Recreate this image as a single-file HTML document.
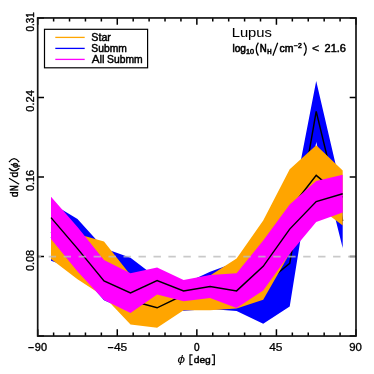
<!DOCTYPE html>
<html><head><meta charset="utf-8"><style>
html,body{margin:0;padding:0;background:#fff;}
svg{display:block}
text{font-family:"Liberation Sans",sans-serif;fill:#000;stroke:#000;stroke-width:0.3px;}
</style></head><body>
<svg width="374" height="374" viewBox="0 0 374 374">
<rect width="374" height="374" fill="#fff"/>
<polygon points="51.0,203.0 77.5,218.9 104.0,248.2 130.5,257.7 157.1,278.0 183.6,284.0 210.1,271.7 236.6,262.0 263.2,247.0 289.7,218.0 316.2,80.9 342.7,194.8 342.7,248.1 316.2,142.0 289.7,306.6 263.2,323.7 236.6,311.0 210.1,309.0 183.6,310.7 157.1,300.0 130.5,312.0 104.0,300.2 77.5,270.0 51.0,260.8" fill="#0000ff"/>
<polyline points="51.0,232.0 77.5,249.0 104.0,274.6 130.5,285.0 157.1,292.0 183.6,297.0 210.1,291.0 236.6,285.5 263.2,285.0 289.7,263.3 316.2,111.4 342.7,221.0" fill="none" stroke="#000" stroke-width="1.45"/>
<polygon points="51.0,215.0 77.5,234.0 104.0,241.5 130.5,275.0 157.1,287.8 183.6,281.0 210.1,275.5 236.6,258.5 263.2,220.5 289.7,169.3 316.2,145.2 342.7,170.5 342.7,225.5 316.2,205.6 289.7,253.5 263.2,299.7 236.6,308.5 210.1,310.2 183.6,310.2 157.1,327.8 130.5,324.6 104.0,296.5 77.5,279.3 51.0,258.9" fill="#ffa500"/>
<polyline points="51.0,237.0 77.5,256.0 104.0,269.0 130.5,300.5 157.1,307.8 183.6,295.0 210.1,293.0 236.6,283.0 263.2,260.0 289.7,209.5 316.2,175.4 342.7,197.3" fill="none" stroke="#000" stroke-width="1.45"/>
<polygon points="51.0,196.7 77.5,227.0 104.0,260.1 130.5,273.3 157.1,267.6 183.6,280.0 210.1,274.9 236.6,273.3 263.2,240.5 289.7,204.5 316.2,181.1 342.7,174.8 342.7,212.5 316.2,222.1 289.7,253.7 263.2,290.5 236.6,308.1 210.1,298.1 183.6,301.3 157.1,294.5 130.5,312.9 104.0,300.0 77.5,271.6 51.0,238.9" fill="#ff00ff"/>
<polyline points="51.0,217.6 77.5,248.6 104.0,280.9 130.5,293.0 157.1,280.5 183.6,290.9 210.1,286.6 236.6,290.9 263.2,266.3 289.7,229.1 316.2,201.6 342.7,193.7" fill="none" stroke="#000" stroke-width="1.45"/>
<path d="M37.70 336.0v-6.7M37.70 17.95v6.7 M53.62 336.0v-3.5M53.62 17.95v3.5 M69.53 336.0v-3.5M69.53 17.95v3.5 M85.45 336.0v-3.5M85.45 17.95v3.5 M101.36 336.0v-3.5M101.36 17.95v3.5 M117.28 336.0v-6.7M117.28 17.95v6.7 M133.19 336.0v-3.5M133.19 17.95v3.5 M149.11 336.0v-3.5M149.11 17.95v3.5 M165.02 336.0v-3.5M165.02 17.95v3.5 M180.94 336.0v-3.5M180.94 17.95v3.5 M196.85 336.0v-6.7M196.85 17.95v6.7 M212.76 336.0v-3.5M212.76 17.95v3.5 M228.68 336.0v-3.5M228.68 17.95v3.5 M244.60 336.0v-3.5M244.60 17.95v3.5 M260.51 336.0v-3.5M260.51 17.95v3.5 M276.43 336.0v-6.7M276.43 17.95v6.7 M292.34 336.0v-3.5M292.34 17.95v3.5 M308.25 336.0v-3.5M308.25 17.95v3.5 M324.17 336.0v-3.5M324.17 17.95v3.5 M340.08 336.0v-3.5M340.08 17.95v3.5 M356.00 336.0v-6.7M356.00 17.95v6.7 M37.7 17.95h6.3M356.0 17.95h-6.3 M37.7 97.46h6.3M356.0 97.46h-6.3 M37.7 176.97h6.3M356.0 176.97h-6.3 M37.7 256.49h6.3M356.0 256.49h-6.3 M37.7 336.00h6.3M356.0 336.00h-6.3" stroke="#000" stroke-width="1.5" fill="none"/>
<path d="M37.7 256.7H41.1 M48.7 256.7H56.1 M63.6 256.7H71.0 M78.6 256.7H86.0 M93.6 256.7H101.0 M108.5 256.7H116.0 M123.5 256.7H130.9 M138.5 256.7H145.9 M153.5 256.7H160.9 M168.4 256.7H175.8 M183.4 256.7H190.8 M198.4 256.7H205.8 M213.3 256.7H220.7 M228.3 256.7H235.7 M243.3 256.7H250.7 M258.2 256.7H265.6 M273.2 256.7H280.6 M288.2 256.7H295.6 M303.2 256.7H310.6 M318.1 256.7H325.5 M333.1 256.7H340.5 M348.1 256.7H355.5" stroke="#bcbcbc" stroke-opacity="0.8" stroke-width="1.7" fill="none"/>
<rect x="37.7" y="17.95" width="318.3" height="318.1" fill="none" stroke="#151515" stroke-width="1.7"/>
<rect x="44.5" y="29.3" width="103.1" height="38.5" fill="#fff" stroke="#000" stroke-width="1.2"/>
<path d="M55.3 37.4H84.7" stroke="#ffa500" stroke-width="1.3"/>
<path d="M55.3 48.4H84.7" stroke="#0000ff" stroke-width="1.3"/>
<path d="M55.3 59.4H84.7" stroke="#ff00ff" stroke-width="1.3"/>
<path d="M258.4 42.7Q254 49.2 258.4 55.7 M303.9 42.7Q308.6 49.2 303.9 55.7 M277.7 42.7L272.9 55.7 M192.6 354.9H190V364.6H192.6 M211.8 354.9H214.3V364.6H211.8 M19.2 184.2L9.0 178.2 M28.3 347.6H33.8 M107.9 347.6H113.4 M9.0 168.3Q14.1 173.6 19.2 168.3 M9.0 162.0Q14.1 155.2 19.2 162.0" stroke="#000" stroke-width="1.25" fill="none"/>
<g style="filter:grayscale(1)">
<text x="91.33" y="40.8" font-size="10.0" textLength="19.6" lengthAdjust="spacingAndGlyphs" style="stroke-width:0.431px">Star</text>
<text x="91.34" y="52.2" font-size="10.0" textLength="35.43" lengthAdjust="spacingAndGlyphs" style="stroke-width:0.472px">Submm</text>
<text x="91.66" y="62.8" font-size="10.0" textLength="13.03" lengthAdjust="spacingAndGlyphs" style="stroke-width:0.329px">All</text>
<text x="107.13" y="62.8" font-size="10.0" textLength="35.52" lengthAdjust="spacingAndGlyphs" style="stroke-width:0.469px">Submm</text>
<text x="231.70" y="36.7" font-size="12.7" textLength="40.25" lengthAdjust="spacingAndGlyphs" style="stroke-width:0.05px">Lupus</text>
<text x="232.40" y="52.0" font-size="10.3" textLength="13.52" lengthAdjust="spacingAndGlyphs" style="stroke-width:0.567px">log</text>
<text x="246.13" y="54.4" font-size="6.3" textLength="7.98" lengthAdjust="spacingAndGlyphs" style="stroke-width:0.463px">10</text>
<text x="259.70" y="52.0" font-size="10.3" textLength="6.94" lengthAdjust="spacingAndGlyphs" style="stroke-width:0.619px">N</text>
<text x="267.20" y="54.4" font-size="6.3" textLength="4.37" lengthAdjust="spacingAndGlyphs" style="stroke-width:0.577px">H</text>
<text x="279.58" y="52.0" font-size="10.3" textLength="13.96" lengthAdjust="spacingAndGlyphs" style="stroke-width:0.533px">cm</text>
<text x="293.95" y="48.3" font-size="6.3" textLength="7.75" lengthAdjust="spacingAndGlyphs" style="stroke-width:0.501px">−2</text>
<text x="312.14" y="52.3" font-size="10.3" textLength="7.13" lengthAdjust="spacingAndGlyphs" style="stroke-width:0.359px">&lt;</text>
<text x="324.56" y="52.0" font-size="10.3" textLength="21.44" lengthAdjust="spacingAndGlyphs" style="stroke-width:0.478px">21.6</text>
<text x="34.87" y="351.1" font-size="10.2" textLength="12.2" lengthAdjust="spacingAndGlyphs" style="stroke-width:0.343px">90</text>
<text x="113.96" y="351.1" font-size="10.2" textLength="13.34" lengthAdjust="spacingAndGlyphs" style="stroke-width:0.241px">45</text>
<text x="193.90" y="351.1" font-size="10.2" textLength="5.59" lengthAdjust="spacingAndGlyphs" style="stroke-width:0.434px">0</text>
<text x="269.15" y="351.1" font-size="10.2" textLength="13.32" lengthAdjust="spacingAndGlyphs" style="stroke-width:0.243px">45</text>
<text x="349.24" y="351.1" font-size="10.2" textLength="12.71" lengthAdjust="spacingAndGlyphs" style="stroke-width:0.297px">90</text>
<text x="177.62" y="363.2" font-size="10.0" textLength="7.55" lengthAdjust="spacingAndGlyphs" style="stroke-width:0.05px"><tspan font-style="italic">ϕ</tspan></text>
<text x="193.68" y="362.7" font-size="9.7" textLength="17.12" lengthAdjust="spacingAndGlyphs" style="stroke-width:0.443px">deg</text>
<text transform="translate(34.1 31.4) rotate(-90)" x="0.00" y="0" font-size="10.2" textLength="19.05" lengthAdjust="spacingAndGlyphs" style="stroke-width:0.44px">0.31</text>
<text transform="translate(34.1 111.7) rotate(-90)" x="0.00" y="0" font-size="10.2" textLength="21.47" lengthAdjust="spacingAndGlyphs" style="stroke-width:0.316px">0.24</text>
<text transform="translate(34.1 190.9) rotate(-90)" x="-0.11" y="0" font-size="10.2" textLength="20.9" lengthAdjust="spacingAndGlyphs" style="stroke-width:0.345px">0.16</text>
<text transform="translate(34.1 270.9) rotate(-90)" x="-0.19" y="0" font-size="10.2" textLength="21.13" lengthAdjust="spacingAndGlyphs" style="stroke-width:0.333px">0.08</text>
<text transform="translate(17.9 197.1) rotate(-90)" x="-0.15" y="0" font-size="10.2" textLength="5.85" lengthAdjust="spacingAndGlyphs" style="stroke-width:0.368px">d</text>
<text transform="translate(17.9 190.9) rotate(-90)" x="0.00" y="0" font-size="10.2" textLength="5.65" lengthAdjust="spacingAndGlyphs" style="stroke-width:0.636px">N</text>
<text transform="translate(17.9 177.3) rotate(-90)" x="-0.11" y="0" font-size="10.2" textLength="5.82" lengthAdjust="spacingAndGlyphs" style="stroke-width:0.373px">d</text>
<text transform="translate(18.1 167.6) rotate(-90)" x="-0.32" y="0" font-size="9.6" textLength="5.42" lengthAdjust="spacingAndGlyphs" style="stroke-width:0.387px"><tspan font-style="italic">ϕ</tspan></text>
</g>
</svg>
</body></html>
